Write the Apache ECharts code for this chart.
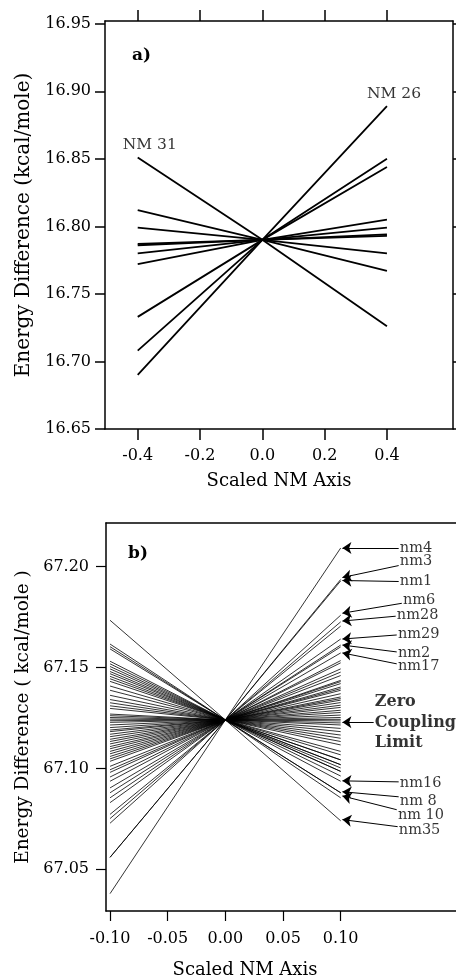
<!DOCTYPE html>
<html>
<head>
<meta charset="utf-8">
<script src="https://cdn.jsdelivr.net/npm/echarts@6/dist/echarts.min.js"></script>
<style>
html, body { margin: 0; padding: 0; background: #fff; }
#chart { width: 456px; height: 980px; }
</style>
</head>
<body>
<div id="chart"></div>
<script>
// panel a) : lines through the common centre point
var topX = [-0.4, 0, 0.4];
var topMid = 16.790;
var topLeft = [16.851, 16.812, 16.799, 16.786, 16.787, 16.780, 16.772, 16.733, 16.708, 16.690];
var topRight = [16.726, 16.767, 16.780, 16.793, 16.794, 16.799, 16.805, 16.844, 16.850, 16.889];
var topTickX = [-0.4, -0.2, 0, 0.2, 0.4];
var topTickY = [16.65, 16.70, 16.75, 16.80, 16.85, 16.90, 16.95];

// panel b)
var botX = [-0.1, 0, 0.1];
var botMid = 67.124;
var botLeft = [
  67.1734, 67.1616, 67.1603, 67.1592, 67.1531, 67.1518, 67.1505, 67.1493, 67.1480, 67.1469,
  67.1456, 67.1444, 67.1431, 67.1408, 67.1387, 67.1362, 67.1341, 67.1325, 67.1310, 67.1297,
  67.1269, 67.1261, 67.1252, 67.1244,
  67.0379, 67.0559, 67.0559, 67.0728, 67.0751, 67.0830, 67.0854, 67.0903, 67.0936, 67.0980,
  67.0993, 67.1010, 67.1035, 67.1059, 67.1072, 67.1097, 67.1108, 67.1121, 67.1144, 67.1157,
  67.1169, 67.1182, 67.1190, 67.1202, 67.1215, 67.1228,
  67.0772, 67.0879, 67.0957, 67.1047, 67.1084, 67.1133, 67.1236
];
var botRight = [
  67.0740, 67.0854, 67.0879, 67.0879, 67.0936, 67.0962, 67.0985, 67.0985, 67.1002, 67.1018,
  67.1018, 67.1042, 67.1042, 67.1067, 67.1084, 67.1116, 67.1133, 67.1149, 67.1165, 67.1182,
  67.1198, 67.1215, 67.1225, 67.1235,
  67.2092, 67.1936, 67.1929, 67.1759, 67.1726, 67.1641, 67.1611, 67.1572, 67.1534, 67.1493,
  67.1477, 67.1460, 67.1436, 67.1420, 67.1403, 67.1387, 67.1370, 67.1354, 67.1338, 67.1326,
  67.1313, 67.1302, 67.1288, 67.1277, 67.1264, 67.1252,
  67.1705, 67.1602, 67.1523, 67.1430, 67.1395, 67.1346, 67.1243
];
var botTickX = [-0.10, -0.05, 0, 0.05, 0.10];
var botTickY = [67.05, 67.10, 67.15, 67.20];

// call-out labels of panel b): text anchor, arrow start and arrow tip
var callouts = [
  { text: 'nm4',   tx: 0.1513, ty: 67.2093, ay: 67.2093, tip: 67.2092 },
  { text: 'nm3',   tx: 0.1513, ty: 67.2025, ay: 67.2005, tip: 67.1946 },
  { text: 'nm1',   tx: 0.1513, ty: 67.1926, ay: 67.1926, tip: 67.1931 },
  { text: 'nm6',   tx: 0.1540, ty: 67.1833, ay: 67.1818, tip: 67.1769 },
  { text: 'nm28',  tx: 0.1487, ty: 67.1759, ay: 67.1754, tip: 67.1730 },
  { text: 'nm29',  tx: 0.1496, ty: 67.1666, ay: 67.1661, tip: 67.1641 },
  { text: 'nm2',   tx: 0.1496, ty: 67.1572, ay: 67.1577, tip: 67.1611 },
  { text: 'nm17',  tx: 0.1496, ty: 67.1508, ay: 67.1518, tip: 67.1572 },
  { text: 'Zero\nCoupling\nLimit', tx: 0.1296, ty: 67.1228, ay: 67.1228, tip: 67.1228, bold: true },
  { text: 'nm16',  tx: 0.1513, ty: 67.0928, ay: 67.0933, tip: 67.0938 },
  { text: 'nm 8',  tx: 0.1513, ty: 67.0839, ay: 67.0859, tip: 67.0884 },
  { text: 'nm 10', tx: 0.1496, ty: 67.0770, ay: 67.0795, tip: 67.0863 },
  { text: 'nm35',  tx: 0.1504, ty: 67.0692, ay: 67.0711, tip: 67.0746 }
];

var FONT = 'DejaVu Serif';
var INK = '#000';
var frame = { onZero: false, lineStyle: { color: '#000', width: 1.5 } };

var series = [];
topLeft.forEach(function (v, i) {
  series.push({
    type: 'line', xAxisIndex: 0, yAxisIndex: 0, symbol: 'none', silent: true,
    lineStyle: { color: '#000', width: 1.8 },
    data: [[topX[0], v], [topX[1], topMid], [topX[2], topRight[i]]]
  });
});
series.push({
  type: 'scatter', xAxisIndex: 0, yAxisIndex: 0, symbolSize: 0, silent: true,
  data: [
    { value: [topX[0], topLeft[0]], label: { formatter: 'NM 31', offset: [12, 0] } },
    { value: [topX[2], topRight[topRight.length - 1]], label: { formatter: 'NM 26', offset: [7, 0] } }
  ],
  label: { show: true, position: 'top', distance: 4, fontFamily: FONT, fontSize: 15.5, color: INK }
});

botLeft.forEach(function (v, i) {
  series.push({
    type: 'line', xAxisIndex: 2, yAxisIndex: 2, symbol: 'none', silent: true,
    lineStyle: { color: '#000', width: 0.8 },
    data: [[botX[0], v], [botX[1], botMid], [botX[2], botRight[i]]]
  });
});
series.push({
  type: 'scatter', xAxisIndex: 2, yAxisIndex: 2, symbolSize: 0, silent: true,
  data: callouts.map(function (c) {
    var item = { value: [c.tx, c.ty], label: { formatter: c.text } };
    if (c.bold) {
      item.label.fontWeight = 'bold';
      item.label.fontSize = 16;
      item.label.lineHeight = 20.5;
    }
    return item;
  }),
  label: { show: true, position: 'right', distance: 0, fontFamily: FONT, fontSize: 14.5, color: INK },
  markLine: {
    silent: true, animation: false,
    symbol: ['none', 'arrow'], symbolSize: 9,
    lineStyle: { color: '#000', width: 1, type: 'solid' },
    label: { show: false },
    data: callouts.map(function (c) {
      return [{ coord: [c.tx - 0.001, c.ay] }, { coord: [0.1015, c.tip] }];
    })
  }
});

echarts.init(document.getElementById('chart')).setOption({
  animation: false,
  backgroundColor: '#fff',
  grid: [
    { left: 105, top: 21, width: 348, height: 408 },
    { left: 106, top: 523, right: 0, height: 391 }
  ],
  xAxis: [
    {
      type: 'value', gridIndex: 0, position: 'bottom', min: -0.505, max: 0.612,
      axisLine: frame, splitLine: { show: false },
      axisTick: { customValues: topTickX, length: 11, lineStyle: { color: '#000', width: 1.5 } },
      axisLabel: { customValues: topTickX, formatter: function (v) { return v.toFixed(1); },
        margin: 19, fontFamily: FONT, fontSize: 16, color: INK },
      name: 'Scaled NM Axis', nameLocation: 'middle', nameGap: 43,
      nameTextStyle: { fontFamily: FONT, fontSize: 18, color: INK }
    },
    {
      type: 'value', gridIndex: 0, position: 'top', min: -0.505, max: 0.612,
      axisLine: frame, splitLine: { show: false },
      axisTick: { customValues: topTickX, length: 11, lineStyle: { color: '#000', width: 1.5 } },
      axisLabel: { show: false }
    },
    {
      type: 'value', gridIndex: 1, position: 'bottom', min: -0.1035, max: 0.2,
      axisLine: frame, splitLine: { show: false },
      axisTick: { customValues: botTickX, length: 10, lineStyle: { color: '#000', width: 1.2 } },
      axisLabel: { customValues: botTickX, formatter: function (v) { return v.toFixed(2); },
        margin: 20, fontFamily: FONT, fontSize: 16, color: INK },
      name: 'Scaled NM Axis', nameLocation: 'middle', nameGap: 50,
      nameTextStyle: { fontFamily: FONT, fontSize: 18, color: INK, padding: [0, 72, 0, 0] }
    },
    {
      type: 'value', gridIndex: 1, position: 'top', min: -0.1035, max: 0.2,
      axisLine: frame, splitLine: { show: false },
      axisTick: { show: false }, axisLabel: { show: false }
    }
  ],
  yAxis: [
    {
      type: 'value', gridIndex: 0, position: 'left', min: 16.65, max: 16.952,
      axisLine: frame, splitLine: { show: false },
      axisTick: { customValues: topTickY, length: 10, lineStyle: { color: '#000', width: 1.5 } },
      axisLabel: { customValues: topTickY, formatter: function (v) { return v.toFixed(2); },
        margin: 14, fontFamily: FONT, fontSize: 16, color: INK },
      name: 'Energy Difference (kcal/mole)', nameLocation: 'middle', nameGap: 66,
      nameTextStyle: { fontFamily: FONT, fontSize: 20, color: INK }
    },
    {
      type: 'value', gridIndex: 0, position: 'right', min: 16.65, max: 16.952,
      axisLine: frame, splitLine: { show: false },
      axisTick: { customValues: topTickY, length: 10, lineStyle: { color: '#000', width: 1.5 } },
      axisLabel: { show: false }
    },
    {
      type: 'value', gridIndex: 1, position: 'left', min: 67.0293, max: 67.2216,
      axisLine: frame, splitLine: { show: false },
      axisTick: { customValues: botTickY, length: 10, lineStyle: { color: '#000', width: 1.2 } },
      axisLabel: { customValues: botTickY, formatter: function (v) { return v.toFixed(2); },
        margin: 17, fontFamily: FONT, fontSize: 16, color: INK },
      name: 'Energy Difference ( kcal/mole )', nameLocation: 'middle', nameGap: 68,
      nameTextStyle: { fontFamily: FONT, fontSize: 18.5, color: INK }
    }
  ],
  graphic: [
    { type: 'text', left: 132, top: 47, style: { text: 'a)', font: 'bold 17px "DejaVu Serif"', fill: INK } },
    { type: 'text', left: 128, top: 545, style: { text: 'b)', font: 'bold 17px "DejaVu Serif"', fill: INK } }
  ],
  series: series
});
</script>
</body>
</html>
